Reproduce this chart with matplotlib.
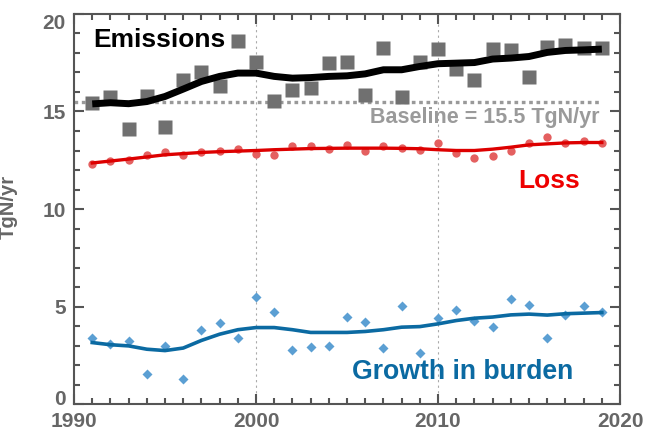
import matplotlib
matplotlib.use('Agg')
import matplotlib.pyplot as plt
import matplotlib.transforms as mtransforms
import numpy as np
from matplotlib.ticker import MultipleLocator

plt.rcParams['font.family'] = ['Liberation Sans', 'DejaVu Sans']
plt.rcParams['font.weight'] = 'bold'

years = np.arange(1991, 2020)

# annual estimates
emis_pts = [15.43, 15.72, 14.11, 15.82, 14.20, 16.59, 17.05, 16.32, 18.59, 17.56,
            15.55, 16.11, 16.23, 17.51, 17.52, 15.86, 18.25, 15.72, 17.53, 18.22,
            17.19, 16.63, 18.20, 18.13, 16.79, 18.33, 18.42, 18.25, 18.25]
loss_pts = [12.32, 12.44, 12.52, 12.78, 12.90, 12.78, 12.90, 12.95, 13.07, 12.83,
            12.76, 13.21, 13.24, 13.07, 13.28, 12.95, 13.21, 13.12, 13.04, 13.38,
            12.87, 12.61, 12.74, 12.95, 13.38, 13.69, 13.38, 13.50, 13.38]
growth_pts = [3.38, 3.09, 3.21, 1.53, 2.98, 1.28, 3.77, 4.15, 3.38, 5.51,
              4.74, 2.76, 2.90, 2.95, 4.44, 4.22, 2.85, 5.04, 2.61, 4.42,
              4.80, 4.28, 3.97, 5.38, 5.07, 3.41, 4.57, 5.04, 4.73]

# smoothed trends
emis_fit = [15.39, 15.45, 15.40, 15.51, 15.77, 16.15, 16.54, 16.80, 16.97, 16.97,
            16.80, 16.71, 16.74, 16.80, 16.83, 16.93, 17.14, 17.14, 17.31, 17.45,
            17.48, 17.51, 17.69, 17.74, 17.82, 18.03, 18.13, 18.16, 18.20]
loss_fit = [12.36, 12.46, 12.56, 12.67, 12.78, 12.84, 12.90, 12.94, 12.97, 13.00,
            13.04, 13.07, 13.10, 13.11, 13.12, 13.12, 13.12, 13.11, 13.09, 13.04,
            13.00, 13.00, 13.07, 13.17, 13.29, 13.34, 13.39, 13.41, 13.41]
growth_fit = [3.15, 3.04, 2.98, 2.81, 2.74, 2.87, 3.26, 3.58, 3.81, 3.92,
              3.92, 3.81, 3.67, 3.67, 3.67, 3.72, 3.81, 3.94, 3.97, 4.11,
              4.28, 4.40, 4.46, 4.57, 4.61, 4.56, 4.63, 4.66, 4.69]

baseline = 15.5
baseline_span = [1990, 2019]
xticks = [1990, 2000, 2010, 2020]
yticks = [0, 5, 10, 15, 20]

fig = plt.figure(figsize=(6.46, 4.32), dpi=100)
ax = fig.add_axes([0.1146, 0.0648, 0.8452, 0.9028])

for xv in (2000, 2010):
    ax.axvline(xv, color='#aaaaaa', lw=0.8, ls=(0, (2, 3)), zorder=0)

ax.plot(baseline_span, [baseline, baseline], color='#999999', lw=2.4, ls=(0, (1.1, 1.1)), zorder=1)

ax.plot(years, emis_pts, 's', color='#707070', ms=9.5, mec='none', zorder=2)
ax.plot(years, emis_fit, '-', color='black', lw=5, solid_capstyle='butt', zorder=3)

ax.plot(years, loss_pts, 'o', color='#e46060', ms=6, mec='none', zorder=2)
ax.plot(years, loss_fit, '-', color='#dd0000', lw=2.4, zorder=3)

ax.plot(years, growth_pts, 'D', color='#5b9fd3', ms=4.6, mec='none', zorder=2)
ax.plot(years, growth_fit, '-', color='#0b6aa2', lw=2.6, zorder=3)

ax.text(1991.05, 18.67, 'Emissions', fontsize=19, fontweight='bold', color='black', va='center', ha='left')
ax.text(2018.85, 14.7, 'Baseline = 15.5 TgN/yr', fontsize=15.5, fontweight='bold', color='#9a9a9a', va='center', ha='right')
ax.text(2014.4, 11.42, 'Loss', fontsize=19, fontweight='bold', color='#ee0000', va='center', ha='left')
ax.text(2005.3, 1.62, 'Growth in burden', fontsize=19.2, fontweight='bold', color='#0b6aa2', va='center', ha='left')

ax.set_xlim(1990, 2020)
ax.set_ylim(0, 20)
ax.set_xticks(xticks)
ax.set_yticks(yticks)
ax.xaxis.set_minor_locator(MultipleLocator(1))
ax.yaxis.set_minor_locator(MultipleLocator(1))
ax.tick_params(which='both', direction='in', top=True, right=True, color='#555555', width=1.5)
ax.tick_params(which='major', length=7, labelsize=15, labelcolor='#666666', pad=6)
ax.tick_params(which='minor', length=4)
for lab in ax.get_xticklabels() + ax.get_yticklabels():
    lab.set_fontweight('bold')
for sp in ax.spines.values():
    sp.set_color('#555555')
    sp.set_linewidth(1.5)

# end labels on the y axis sit inside the axis range
ylabs = ax.get_yticklabels()
ylabs[0].set_transform(ylabs[0].get_transform() + mtransforms.ScaledTranslation(0, 7 / 100, fig.dpi_scale_trans))
ylabs[-1].set_transform(ylabs[-1].get_transform() + mtransforms.ScaledTranslation(0, -7.5 / 100, fig.dpi_scale_trans))

ax.set_ylabel('TgN/yr', fontsize=14.5, fontweight='bold', color='#666666')
ax.yaxis.set_label_coords(-0.1026, 0.505)

plt.savefig('out.png', dpi=100)
